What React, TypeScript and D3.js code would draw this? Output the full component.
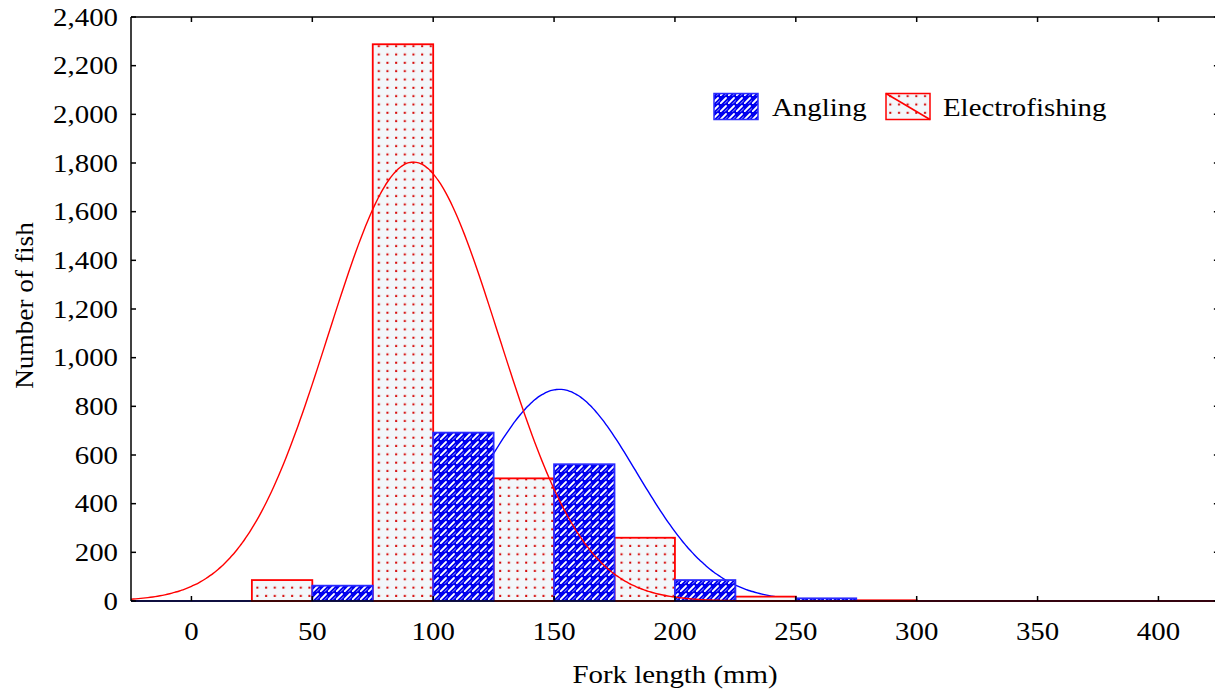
import React from "react";
import * as d3 from "d3";

// Histogram bins (bin start in mm, bin width 25 per series)
const electroStarts = [25, 75, 125, 175, 225, 275];
const electroCounts = [86, 2288, 504, 260, 18, 3];
const anglingStarts = [50, 100, 150, 200, 250, 300];
const anglingCounts = [63, 692, 562, 86, 11, 0];
const halfBin = 25;

// Fitted normal curves: [mean, sd, peak height]
const electroFit = [91.8, 35.2, 1804];
const anglingFit = [152.2, 32, 870];

const xTicks = [0, 50, 100, 150, 200, 250, 300, 350, 400];
const yTicks = [0, 200, 400, 600, 800, 1000, 1200, 1400, 1600, 1800, 2000, 2200, 2400];

const W = 1215;
const H = 692;
const left = 131;
const top = 17;
const bottom = 601;
const xMin = -25;
const xMax = 425;
const pxPerUnit = 2.4175;

const FONT = "'Liberation Serif', 'Times New Roman', serif";
const FS = 26;
const SX = 1.11;

function T(props: { x: number; y: number; anchor?: string; rot?: number; sx?: number; children: React.ReactNode }) {
  const { x, y, anchor, rot, sx, children } = props;
  const r = rot ? ` rotate(${rot})` : "";
  return (
    <text transform={`translate(${x},${y})${r} scale(${sx ?? SX},1)`} textAnchor={anchor ?? "start"} fontSize={FS} fill="#000">
      {children}
    </text>
  );
}

export default function App() {
  const x = d3.scaleLinear().domain([xMin, xMax]).range([left, left + (xMax - xMin) * pxPerUnit]);
  const y = d3.scaleLinear().domain([0, 2400]).range([bottom, top]);
  const right = x(xMax);
  const fmt = d3.format(",");

  const curve = (fit: number[]) => {
    const [m, s, p] = fit;
    const pts = d3.range(xMin, xMax + 0.5, 1).map((v) => [v, p * Math.exp(-((v - m) ** 2) / (2 * s * s))]);
    return d3
      .line<number[]>()
      .x((d) => x(d[0]))
      .y((d) => y(d[1]))
      .curve(d3.curveBasis)(pts) as string;
  };

  return (
    <svg
      width={W}
      height={H}
      style={{ position: "absolute", left: 0, top: 0, background: "#fff" }}
      fontFamily={FONT}
    >
      <defs>
        <pattern id="angPat" patternUnits="userSpaceOnUse" width={8} height={8}>
          <rect width={8} height={8} fill="#0000ee" />
          <path d="M0.5,7.5 L6,2" stroke="#fff" strokeWidth={1.8} strokeLinecap="round" />
          <path d="M4.5,7.8 L8,4.3" stroke="#fff" strokeWidth={1} opacity={0.6} />
        </pattern>
        <pattern id="elPat" patternUnits="userSpaceOnUse" width={8.67} height={8.33} x={1} y={0}>
          <rect width={8.67} height={8.33} fill="#f3f7fa" />
          <rect x={4} y={3.5} width={2} height={2} fill="#d40000" />
          <rect x={6} y={3.5} width={1} height={1} fill="#f0c8c0" />
        </pattern>
        <clipPath id="plotClip">
          <rect x={left} y={top} width={right - left} height={bottom - top + 1} />
        </clipPath>
      </defs>

      {/* Angling fitted curve (behind bars) */}
      <g clipPath="url(#plotClip)">
        <path d={curve(anglingFit)} fill="none" stroke="#0000ff" strokeWidth={1.4} />
      </g>

      {/* Bars */}
      <g>
        {electroStarts.map((s, i) => (
          <rect
            key={"e" + i}
            x={x(s)}
            y={y(electroCounts[i])}
            width={x(s + halfBin) - x(s)}
            height={bottom - y(electroCounts[i])}
            fill="url(#elPat)"
            stroke="#ff0000"
            strokeWidth={1.8}
          />
        ))}
        {anglingStarts.map((s, i) =>
          anglingCounts[i] > 0 ? (
            <rect
              key={"a" + i}
              x={x(s)}
              y={y(anglingCounts[i])}
              width={x(s + halfBin) - x(s)}
              height={bottom - y(anglingCounts[i])}
              fill="url(#angPat)"
              stroke="#2a2aff"
              strokeWidth={1.8}
            />
          ) : null
        )}
      </g>

      {/* Electrofishing fitted curve */}
      <g clipPath="url(#plotClip)">
        <path d={curve(electroFit)} fill="none" stroke="#ff0000" strokeWidth={1.4} />
      </g>

      {/* Frame */}
      <g stroke="#000" strokeWidth={1.5} fill="none">
        <line x1={left} y1={top} x2={right} y2={top} />
        <line x1={left} y1={bottom} x2={right} y2={bottom} />
        <line x1={left} y1={top} x2={left} y2={bottom} />
        <line x1={right} y1={top} x2={right} y2={bottom} />
      </g>

      {/* Ticks */}
      <g stroke="#000" strokeWidth={1.5}>
        {xTicks.map((t) => (
          <g key={"xt" + t}>
            <line x1={x(t)} x2={x(t)} y1={bottom} y2={bottom - 5} />
            <line x1={x(t)} x2={x(t)} y1={top} y2={top + 5} />
          </g>
        ))}
        {yTicks.map((t) => (
          <g key={"yt" + t}>
            <line x1={left} x2={left + 5} y1={y(t)} y2={y(t)} />
            <line x1={right} x2={right - 5} y1={y(t)} y2={y(t)} />
          </g>
        ))}
      </g>

      {/* Tick labels */}
      {xTicks.map((t) => (
        <T key={"xl" + t} x={x(t)} y={640} anchor="middle">
          {fmt(t)}
        </T>
      ))}
      {yTicks.map((t) => (
        <T key={"yl" + t} x={118} y={y(t) + 8.5} anchor="end">
          {fmt(t)}
        </T>
      ))}

      {/* Axis titles */}
      <T x={675} y={683} anchor="middle">
        Fork length (mm)
      </T>
      <T x={33} y={305.5} anchor="middle" rot={-90} sx={1.05}>
        Number of fish
      </T>

      {/* Legend */}
      <g>
        <rect x={714} y={93.5} width={44} height={26} fill="url(#angPat)" stroke="#2a2aff" strokeWidth={1.5} />
        <T x={772} y={116}>Angling</T>
        <rect x={886} y={93.5} width={44} height={26} fill="url(#elPat)" stroke="#ff0000" strokeWidth={1.5} />
        <line x1={886} y1={93.5} x2={930} y2={119.5} stroke="#ff0000" strokeWidth={1.5} />
        <T x={943} y={116}>Electrofishing</T>
      </g>
    </svg>
  );
}
